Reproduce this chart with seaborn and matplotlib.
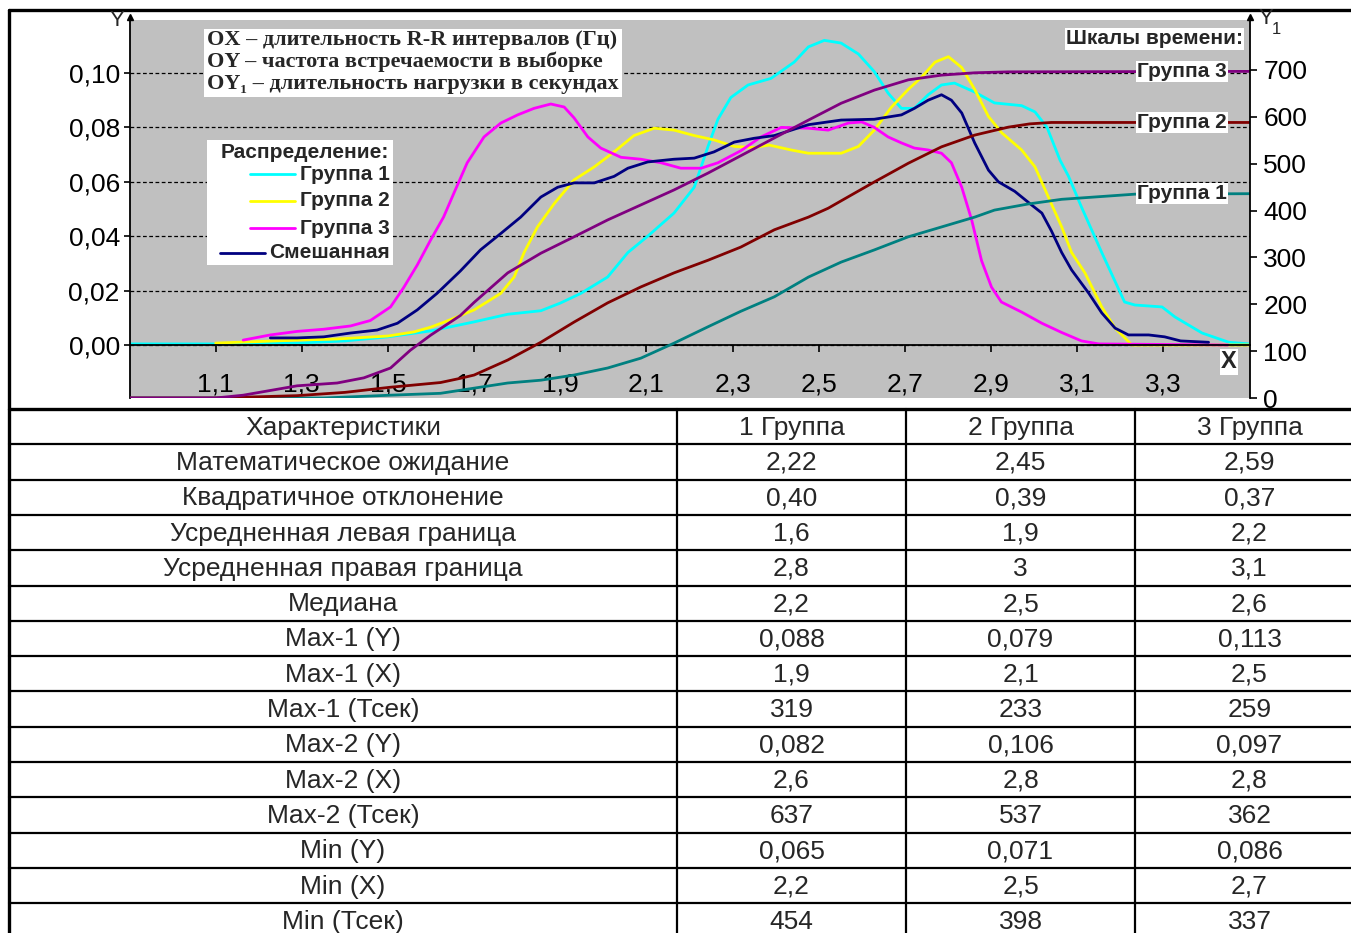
import numpy as np
import pandas as pd
import matplotlib
matplotlib.use("Agg")
import matplotlib.pyplot as plt
import seaborn as sns
from matplotlib.patches import Rectangle
from matplotlib.lines import Line2D

# ---------------- data: distributions (left axis, Y) ----------------
g1_x = [0.90, 1.10, 1.29, 1.40, 1.50, 1.60, 1.70, 1.778, 1.855, 1.90, 1.948, 2.01, 2.057, 2.103,
        2.164, 2.211, 2.243, 2.266, 2.296, 2.336, 2.389, 2.443, 2.476, 2.513, 2.552, 2.592, 2.629,
        2.661, 2.692, 2.722, 2.754, 2.785, 2.815, 2.862, 2.908, 2.971, 3.002, 3.03, 3.06, 3.08,
        3.11, 3.157, 3.21, 3.234, 3.297, 3.327, 3.39, 3.452, 3.50]
g1_y = [0.0004, 0.0004, 0.0007, 0.0015, 0.003, 0.0052, 0.0085, 0.0113, 0.0126, 0.0154, 0.019, 0.025,
        0.034, 0.040, 0.0485, 0.058, 0.073, 0.083, 0.091, 0.0956, 0.098, 0.104, 0.1096, 0.112, 0.111,
        0.107, 0.1005, 0.0926, 0.087, 0.087, 0.092, 0.0956, 0.0963, 0.093, 0.089, 0.088, 0.0857,
        0.080, 0.068, 0.062, 0.0507, 0.034, 0.0158, 0.0147, 0.014, 0.0103, 0.0044, 0.001, 0.0004]

g2_x = [1.10, 1.29, 1.38, 1.50, 1.56, 1.60, 1.64, 1.70, 1.762, 1.793, 1.816, 1.847, 1.886, 1.932,
        1.979, 2.025, 2.071, 2.118, 2.164, 2.211, 2.257, 2.304, 2.35, 2.385, 2.436, 2.476, 2.552,
        2.592, 2.629, 2.669, 2.708, 2.739, 2.77, 2.801, 2.832, 2.862, 2.894, 2.925, 2.971, 3.002,
        3.037, 3.064, 3.087, 3.118, 3.157, 3.188, 3.227, 3.50]
g2_y = [0.0007, 0.0018, 0.0022, 0.0033, 0.0048, 0.0066, 0.009, 0.0129, 0.019, 0.025, 0.034, 0.0434,
        0.052, 0.0607, 0.0655, 0.071, 0.077, 0.0797, 0.079, 0.077, 0.0754, 0.073, 0.0726, 0.0735,
        0.0717, 0.0705, 0.0705, 0.073, 0.079, 0.0875, 0.094, 0.0985, 0.104, 0.106, 0.102, 0.094,
        0.084, 0.078, 0.0717, 0.0655, 0.053, 0.0434, 0.034, 0.0265, 0.014, 0.0062, 0.0, 0.0]

g3_x = [1.164, 1.227, 1.289, 1.351, 1.413, 1.459, 1.506, 1.536, 1.568, 1.599, 1.629, 1.653, 1.684,
        1.723, 1.762, 1.801, 1.839, 1.878, 1.909, 1.932, 1.964, 1.994, 2.041, 2.087, 2.134, 2.18,
        2.227, 2.266, 2.319, 2.366, 2.413, 2.476, 2.522, 2.569, 2.60, 2.629, 2.661, 2.692, 2.722,
        2.754, 2.785, 2.808, 2.832, 2.855, 2.878, 2.901, 2.924, 2.971, 3.018, 3.064, 3.11, 3.15, 3.45]
g3_y = [0.0018, 0.0037, 0.005, 0.0058, 0.007, 0.009, 0.014, 0.021, 0.0294, 0.0386, 0.047, 0.0558,
        0.067, 0.0765, 0.0816, 0.0846, 0.087, 0.0886, 0.0875, 0.0835, 0.0765, 0.0724, 0.069, 0.0683,
        0.067, 0.065, 0.065, 0.067, 0.0714, 0.0765, 0.080, 0.0797, 0.079, 0.0816, 0.082, 0.080,
        0.0765, 0.0743, 0.0724, 0.0717, 0.0705, 0.067, 0.058, 0.046, 0.031, 0.0213, 0.0158, 0.0121,
        0.008, 0.0046, 0.0015, 0.0004, 0.0]

mix_x = [1.227, 1.289, 1.351, 1.413, 1.475, 1.522, 1.568, 1.614, 1.668, 1.715, 1.762, 1.808, 1.855,
         1.894, 1.932, 1.979, 2.025, 2.057, 2.103, 2.164, 2.211, 2.257, 2.304, 2.35, 2.397, 2.476,
         2.552, 2.629, 2.692, 2.722, 2.754, 2.785, 2.808, 2.832, 2.862, 2.894, 2.917, 2.955, 2.994,
         3.018, 3.04, 3.064, 3.087, 3.127, 3.157, 3.188, 3.219, 3.266, 3.303, 3.34, 3.405]
mix_y = [0.0026, 0.0026, 0.003, 0.0044, 0.0055, 0.008, 0.0129, 0.019, 0.0272, 0.035, 0.041, 0.047,
         0.0544, 0.058, 0.0596, 0.0596, 0.062, 0.065, 0.0673, 0.0683, 0.0687, 0.071, 0.0746, 0.076,
         0.077, 0.081, 0.0827, 0.083, 0.0846, 0.087, 0.090, 0.092, 0.090, 0.0853, 0.0743, 0.0643,
         0.060, 0.0565, 0.0515, 0.0485, 0.042, 0.034, 0.0276, 0.019, 0.0118, 0.0062, 0.0037, 0.0037,
         0.003, 0.0015, 0.001]

# ---------------- data: time scales (right axis, Y1) ----------------
t1_x = [0.90, 1.35, 1.506, 1.622, 1.70, 1.778, 1.855, 1.932, 2.01, 2.087, 2.164, 2.243, 2.319, 2.397,
        2.476, 2.552, 2.629, 2.708, 2.785, 2.862, 2.908, 2.986, 3.064, 3.157, 3.234, 3.50]
t1_y = [0, 0, 6, 10, 21, 32, 38, 49, 64, 85, 117, 152, 185, 216, 258, 290, 316, 344, 365, 386, 401,
        414, 424, 430, 435, 436]

t2_x = [0.90, 1.10, 1.289, 1.40, 1.506, 1.622, 1.668, 1.70, 1.778, 1.855, 1.932, 2.01, 2.087, 2.164,
        2.243, 2.319, 2.397, 2.476, 2.522, 2.583, 2.629, 2.708, 2.785, 2.862, 2.94, 2.99, 3.04, 3.50]
t2_y = [0, 0, 5, 12, 23, 33, 42, 49, 81, 119, 162, 203, 237, 267, 294, 322, 359, 386, 405, 437, 461,
        501, 536, 561, 578, 585, 588, 588]

t3_x = [0.90, 1.10, 1.164, 1.289, 1.382, 1.444, 1.506, 1.552, 1.599, 1.668, 1.70, 1.778, 1.855, 1.932,
        2.01, 2.087, 2.164, 2.243, 2.319, 2.397, 2.476, 2.552, 2.629, 2.708, 2.785, 2.862, 2.94, 3.50]
t3_y = [0, 0, 6, 26, 32, 43, 64, 102, 134, 176, 204, 267, 309, 344, 380, 412, 444, 480, 517, 555, 593,
        629, 657, 679, 689, 694, 696, 697]

# ---------------- ticks / labels ----------------
x_ticks = [1.1, 1.3, 1.5, 1.7, 1.9, 2.1, 2.3, 2.5, 2.7, 2.9, 3.1, 3.3]
x_labels = ["1,1", "1,3", "1,5", "1,7", "1,9", "2,1", "2,3", "2,5", "2,7", "2,9", "3,1", "3,3"]
y_ticks = [0.00, 0.02, 0.04, 0.06, 0.08, 0.10]
y_labels = ["0,00", "0,02", "0,04", "0,06", "0,08", "0,10"]
y1_ticks = [0, 100, 200, 300, 400, 500, 600, 700]

legend_labels = ["Группа 1", "Группа 2", "Группа 3", "Смешанная"]
time_labels = ["Группа 1", "Группа 2", "Группа 3"]
info_lines = ["OX – длительность R-R интервалов (Гц)",
              "OY – частота встречаемости в выборке",
              "OY₁ – длительность нагрузки в секундах"]

# ---------------- table ----------------
table_header = ["Характеристики", "1 Группа", "2 Группа", "3 Группа"]
row_names = ["Математическое ожидание", "Квадратичное отклонение", "Усредненная левая граница",
             "Усредненная правая граница", "Медиана", "Max-1 (Y)", "Max-1 (X)", "Max-1 (Тсек)",
             "Max-2 (Y)", "Max-2 (X)", "Max-2 (Тсек)", "Min (Y)", "Min (X)", "Min (Тсек)"]
col_g1 = ["2,22", "0,40", "1,6", "2,8", "2,2", "0,088", "1,9", "319", "0,082", "2,6", "637", "0,065", "2,2", "454"]
col_g2 = ["2,45", "0,39", "1,9", "3", "2,5", "0,079", "2,1", "233", "0,106", "2,8", "537", "0,071", "2,5", "398"]
col_g3 = ["2,59", "0,37", "2,2", "3,1", "2,6", "0,113", "2,5", "259", "0,097", "2,8", "362", "0,086", "2,7", "337"]

CYAN, YELLOW, MAGENTA, NAVY = "#00FFFF", "#FFFF00", "#FF00FF", "#000080"
TEAL, DRED, PURPLE = "#008080", "#800000", "#800080"

sns.set_style("white")
plt.rcParams['font.family'] = ['Liberation Sans', 'DejaVu Sans']
plt.rcParams['lines.solid_joinstyle'] = 'round'
plt.rcParams['lines.solid_capstyle'] = 'round'

W, H = 1351, 933
fig = plt.figure(figsize=(W / 100, H / 100), dpi=100)


def fx(px):
    return px / W


def fy(py):
    return 1 - py / H


x0, x1, yt, yb = 129.5, 1249.5, 20, 398
ax = fig.add_axes([fx(x0), fy(yb), (x1 - x0) / W, (yb - yt) / H])
ax.set_facecolor("#C0C0C0")
ax.set_axisbelow(True)
ax2 = ax.twinx()

LW = 2.0
for xs, ys, c in [(g1_x, g1_y, CYAN), (g2_x, g2_y, YELLOW), (g3_x, g3_y, MAGENTA), (mix_x, mix_y, NAVY)]:
    sns.lineplot(x=xs, y=ys, ax=ax, color=c, linewidth=LW, estimator=None, sort=False)
for xs, ys, c in [(t1_x, t1_y, TEAL), (t2_x, t2_y, DRED), (t3_x, t3_y, PURPLE)]:
    sns.lineplot(x=xs, y=ys, ax=ax2, color=c, linewidth=LW, estimator=None, sort=False)

ax.set_xlim(0.9, 3.5)
ax.set_ylim(-53 / 2720, 325 / 2720)
ax2.set_ylim(0, 378 / 0.4686)
for a in (ax, ax2):
    a.set_xlabel("")
    a.set_ylabel("")

ax.grid(axis="y", color="black", linestyle=(0, (3, 2)), linewidth=0.9)
ax.grid(axis="x", visible=False)

ax.set_xticks(x_ticks)
ax.set_xticklabels(x_labels)
ax.set_yticks(y_ticks)
ax.set_yticklabels(y_labels)
ax2.set_yticks(y1_ticks)
ax2.set_yticklabels([str(v) for v in y1_ticks])

ax.spines["bottom"].set_position(("data", 0))
for s in ("top", "right"):
    ax.spines[s].set_visible(False)
for s in ("top", "left", "bottom"):
    ax2.spines[s].set_visible(False)
for sp in (ax.spines["left"], ax.spines["bottom"], ax2.spines["right"]):
    sp.set_color("black")
    sp.set_linewidth(1.3)
    sp.set_visible(True)

ax.tick_params(axis="x", direction="out", length=5, width=1.2, pad=15, labelsize=19,
               bottom=True, colors="black")
ax.tick_params(axis="y", direction="out", length=4, width=1.2, pad=3, labelsize=19,
               left=True, colors="black")
ax2.tick_params(axis="y", direction="out", length=5, width=1.2, pad=5, labelsize=19,
                right=True, colors="black")

# time-scale labels on plateaus
for lab, ys in zip(time_labels, [t1_y, t2_y, t3_y]):
    ax2.text(3.343, ys[-1], lab, ha="center", va="center", fontsize=15, fontweight="bold",
             bbox=dict(fc="white", ec="none", pad=0.8), zorder=10)
ax2.text(3.452, -0.00625, "X", transform=ax.transData, ha="center", va="center", fontsize=17,
         fontweight="bold", bbox=dict(fc="white", ec="none", pad=0.8), zorder=10)

# ---------------- overlay (pixel coordinates) ----------------
ov = fig.add_axes([0, 0, 1, 1], zorder=10)
ov.set_xlim(0, W)
ov.set_ylim(H, 0)
ov.axis("off")
ov.patch.set_alpha(0)

# arrows and axis names
ov.plot([x0], [17], marker="^", color="black", markersize=5, clip_on=False)
ov.plot([x1], [17], marker="^", color="black", markersize=5, clip_on=False)
ov.text(117, 21, "Y", ha="center", va="center", fontsize=16)
ov.text(1266, 19, "Y", ha="center", va="center", fontsize=16)
ov.text(1276, 29, "1", ha="center", va="center", fontsize=12)

# info box
ov.add_patch(Rectangle((204, 29), 418, 68, fc="white", ec="none", zorder=3))
for i, t in enumerate(info_lines):
    ov.text(207, 40 + 22 * i, t, ha="left", va="center", fontsize=16, fontweight="bold",
            family=["Liberation Serif", "DejaVu Serif"], zorder=4)

# legend box
ov.add_patch(Rectangle((207, 140), 186, 125, fc="white", ec="none", zorder=3))
ov.text(389, 152, "Распределение:", ha="right", va="center", fontsize=15, fontweight="bold", zorder=4)
leg_y = [174, 201, 228, 253]
leg_c = [CYAN, YELLOW, MAGENTA, NAVY]
for i, (lab, c, yy) in enumerate(zip(legend_labels, leg_c, leg_y)):
    xa, xb = (250, 295) if i < 3 else (220, 265)
    ov.add_line(Line2D([xa, xb], [yy, yy], color=c, lw=LW, zorder=4))
    ov.text(390, yy, lab, ha="right", va="center", fontsize=15, fontweight="bold", zorder=4)

# time scale title
ov.text(1243, 39, "Шкалы времени:", ha="right", va="center", fontsize=15, fontweight="bold",
        bbox=dict(fc="white", ec="none", pad=0.8), zorder=4)

# chart frame
ov.add_line(Line2D([9, W + 5], [10, 10], color="black", lw=2.4))
ov.add_line(Line2D([9, 9], [10, H + 5], color="black", lw=2.4))

# table
row_h = 35.3
t_top = 409
col_edges = [9, 677, 906, 1135, 1364]
n_rows = len(row_names) + 1
for i in range(n_rows + 1):
    yy = t_top + i * row_h
    ov.add_line(Line2D([9, W + 5], [yy, yy], color="black", lw=2.4 if i == 0 else 1.6))
for xe in col_edges[1:4]:
    ov.add_line(Line2D([xe, xe], [t_top, H + 5], color="black", lw=1.6))

rows = [table_header] + [[n, a, b, c] for n, a, b, c in zip(row_names, col_g1, col_g2, col_g3)]
for i, r in enumerate(rows):
    yc = t_top + i * row_h + row_h / 2 + 1
    for j, cell in enumerate(r):
        xc = (col_edges[j] + col_edges[j + 1]) / 2
        ov.text(xc, yc, cell, ha="center", va="center", fontsize=19)

fig.savefig("out.png", dpi=100)
